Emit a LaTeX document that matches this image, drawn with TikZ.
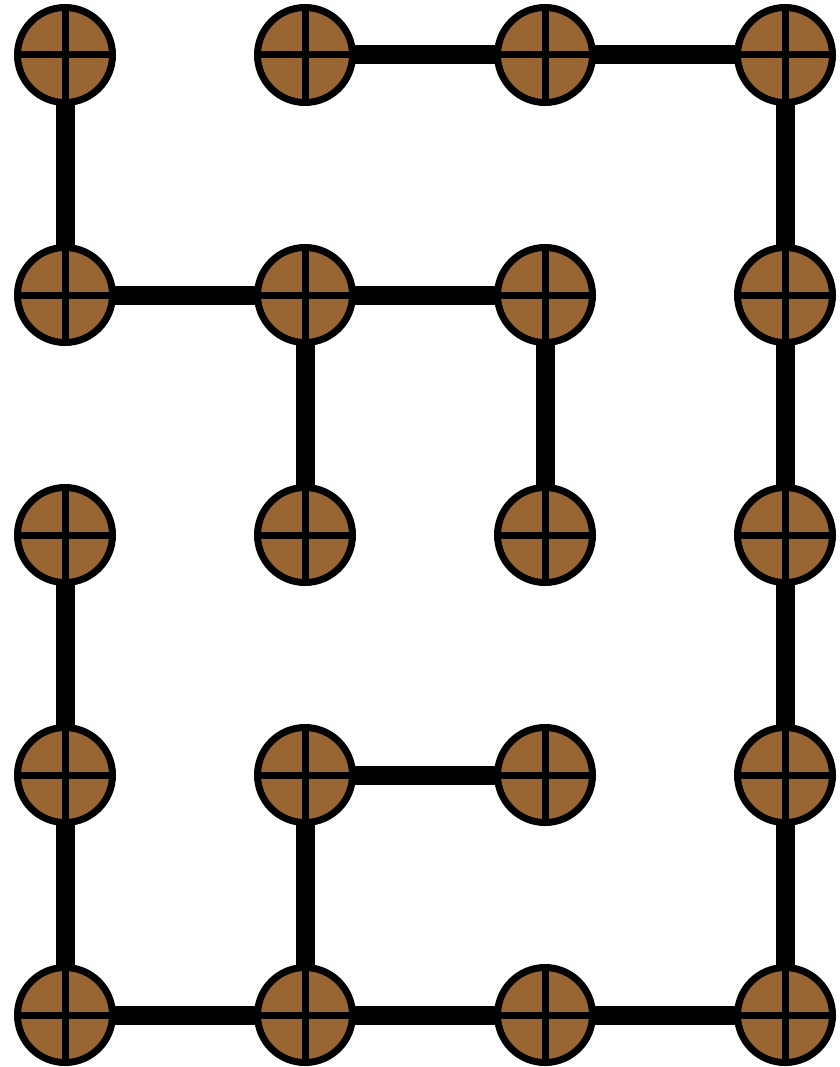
\documentclass[tikz,border=0pt]{standalone}
\definecolor{nodebrown}{RGB}{153,102,51}
\tikzset{
  joint/.style={circle, draw=black, line width=7pt, fill=nodebrown, minimum size=95pt, inner sep=0pt,
    path picture={\draw[line width=7pt] (path picture bounding box.north) -- (path picture bounding box.south);
                  \draw[line width=7pt] (path picture bounding box.west) -- (path picture bounding box.east);}},
  link/.style={line width=19pt, black}
}
\begin{document}
\begin{tikzpicture}[x=1pt,y=-1pt]
\useasboundingbox (0,0) rectangle (839,1067);
\foreach \c/\x in {0/65,1/305,2/545,3/785}{
  \foreach \r/\y in {0/55,1/295,2/535,3/775,4/1015}{
    \coordinate (p\c\r) at (\x,\y);
  }
}
\begin{scope}
\draw[link] (p00) -- (p01);
\draw[link] (p10) -- (p20) -- (p30);
\draw[link] (p30) -- (p31) -- (p32) -- (p33) -- (p34);
\draw[link] (p01) -- (p11) -- (p21);
\draw[link] (p11) -- (p12);
\draw[link] (p21) -- (p22);
\draw[link] (p02) -- (p03) -- (p04);
\draw[link] (p13) -- (p23);
\draw[link] (p13) -- (p14);
\draw[link] (p04) -- (p14) -- (p24) -- (p34);
\end{scope}
\foreach \c in {0,1,2,3}{
  \foreach \r in {0,1,2,3,4}{
    \node[joint] (n\c\r) at (p\c\r) {};
  }
}
\end{tikzpicture}
\end{document}
